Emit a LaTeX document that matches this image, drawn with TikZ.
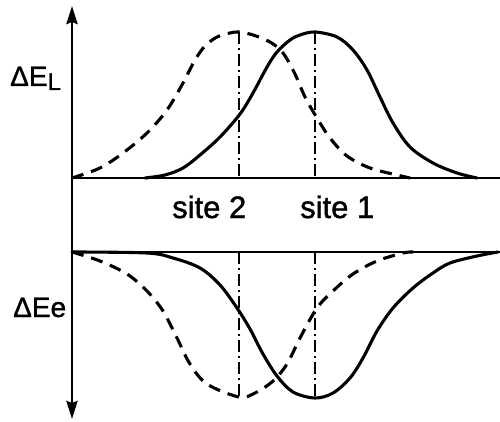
\documentclass[tikz,border=0pt]{standalone}
\usepackage{fontspec}
\setmainfont{Liberation Sans}[BoldFont={Liberation Sans},BoldFeatures={FakeBold=1.3}]
\usetikzlibrary{arrows.meta}
\begin{document}
\begin{tikzpicture}[x=1pt,y=-1pt,
  curve/.style={line width=3.1pt,line cap=round,line join=round},
  dcurve/.style={curve,dash pattern=on 12pt off 8pt,line cap=butt},
  siteline/.style={line width=2pt,dash pattern=on 12pt off 4pt on 2pt off 4pt},
  axisline/.style={line width=2.8pt},
  lbl/.style={inner sep=0pt,anchor=base west,font=\bfseries\fontsize{28}{30}\selectfont},
  slbl/.style={inner sep=0pt,anchor=base west,font=\bfseries\fontsize{31}{33}\selectfont}]
\useasboundingbox (0,0) rectangle (500,422);
% axes
\coordinate (top) at (72,6);
\coordinate (bot) at (72,419);
\coordinate (u0) at (72,178);
\coordinate (u1) at (500,178);
\coordinate (l0) at (72,252);
\coordinate (l1) at (500,252);
\draw[axisline,{Stealth[length=18pt,width=11pt,inset=2pt]}-{Stealth[length=18pt,width=11pt,inset=2pt]}] (top) -- (bot);
\draw[axisline] (u0) -- (u1);
\draw[axisline] (l0) -- (l1);
% site lines
\coordinate (s2t) at (239,32);
\coordinate (s2u) at (239,178);
\coordinate (s2l) at (239,252);
\coordinate (s2b) at (239,397);
\coordinate (s1t) at (315,32);
\coordinate (s1u) at (315,178);
\coordinate (s1l) at (315,252);
\coordinate (s1b) at (315,398);
\draw[siteline] (s2t) -- (s2u);
\draw[siteline] (s2l) -- (s2b);
\draw[siteline] (s1t) -- (s1u);
\draw[siteline] (s1l) -- (s1b);
% upper solid
\draw[curve] plot[smooth,tension=0.55] coordinates {(145,178) (165,175) (183,168) (200,155) (220,137) (240,114) (253,93) (267,67) (277,52) (290,40) (300,35) (315,32) (337,37) (353,50) (367,70) (380,97) (393,123) (410,147) (433,163) (457,173) (477,178)};
% upper dashed
\draw[dcurve] plot[smooth,tension=0.55] coordinates {(72,178) (100,168) (123,153) (147,133) (167,110) (183,83) (195,60) (205,46) (217,37) (230,33) (239,32) (253,35) (270,42) (283,53) (295,74) (305,97) (317,118) (330,138) (347,156) (370,168) (397,175) (410,178)};
% lower solid
\draw[curve] plot[smooth,tension=0.55] coordinates {(72,252) (147,253) (173,258) (200,268) (220,285) (237,308) (250,329) (263,354) (277,376) (293,392) (315,398) (333,393) (350,378) (363,358) (377,331) (393,308) (413,288) (433,273) (450,263) (477,256) (498,252)};
% lower dashed
\draw[dcurve] plot[smooth,tension=0.55] coordinates {(72,252) (100,261) (127,274) (147,291) (163,311) (177,338) (190,364) (207,384) (239,397) (255,393) (273,381) (287,364) (300,338) (317,308) (333,291) (353,274) (377,261) (403,253) (413,252)};
% labels
\node[lbl] (el) at (10,86) {ΔE\raisebox{-4pt}{\bfseries\fontsize{24}{26}\selectfont L}};
\node[lbl] (ee) at (13,317) {ΔEe};
\node[slbl] (site2) at (172,218) {site 2};
\node[slbl] (site1) at (300,218) {site 1};
\end{tikzpicture}
\end{document}
